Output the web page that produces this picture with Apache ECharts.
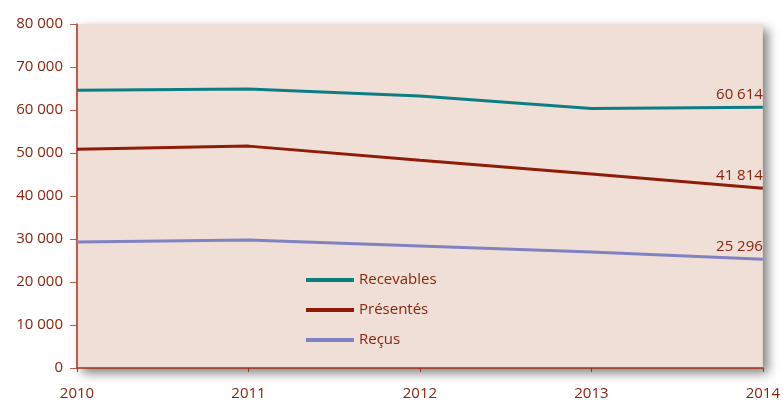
<!DOCTYPE html>
<html><head><meta charset="utf-8">
<script src="https://cdn.jsdelivr.net/npm/echarts@6/dist/echarts.min.js"></script>
<style>html,body{margin:0;padding:0;background:#fff}#c{width:783px;height:401px}</style>
</head><body><div id="c"></div>
<script>
const years = ['2010','2011','2012','2013','2014'];
const recevables = [64600, 64900, 63250, 60350, 60614];
const presentes = [50900, 51600, 48300, 45100, 41814];
const recus = [29300, 29750, 28400, 26950, 25296];
const seriesNames = ['Recevables','Présentés','Reçus'];
const colors = ['#0d7d84','#8e1c08','#8181c4'];
const txt = '#88240f';
const FONT = 'Open Sans';

function fmt(v){ return String(v).replace(/\B(?=(\d{3})+(?!\d))/g,' '); }

const chart = echarts.init(document.getElementById('c'));
const mk = (name, data, color) => ({
  name, type:'line', data, showSymbol:true, symbol:'circle', symbolSize:0, smooth:false,
  lineStyle:{color, width:3}, itemStyle:{color},
  label:{show:true, position:'top', align:'right', offset:[-3,-7], color:txt, fontFamily:FONT, fontSize:15,
    formatter:p => p.dataIndex === data.length-1 ? fmt(p.value) : ''},
  labelLayout:{hideOverlap:false}
});
chart.setOption({
  animation:false,
  backgroundColor:'#ffffff',
  grid:{left:77, right:13, top:24, bottom:33, show:true, backgroundColor:'#f0dfd6', borderWidth:0,
    shadowColor:'rgba(0,0,0,0.5)', shadowBlur:10, shadowOffsetX:5, shadowOffsetY:5},
  legend:{orient:'vertical', left:306, top:272, padding:0, itemWidth:48, itemHeight:4, itemGap:14, icon:'rect',
    textStyle:{color:txt, fontFamily:FONT, fontSize:15, lineHeight:16},
    data:seriesNames},
  xAxis:{type:'category', data:years, boundaryGap:false,
    axisLine:{lineStyle:{color:'#a3301a', width:1.5}},
    axisTick:{show:true, length:4, alignWithLabel:true, lineStyle:{color:'#a3301a'}},
    axisLabel:{color:txt, fontFamily:FONT, fontSize:15, margin:18},
    splitLine:{show:false}},
  yAxis:{type:'value', min:0, max:80000, interval:10000,
    axisLine:{show:true, lineStyle:{color:'#a3301a', width:1.5}},
    axisTick:{show:true, length:7, lineStyle:{color:'#b0604a'}},
    axisLabel:{color:txt, fontFamily:FONT, fontSize:15, margin:14, formatter:v=>fmt(v)},
    splitLine:{show:false}},
  series:[mk(seriesNames[0], recevables, colors[0]), mk(seriesNames[1], presentes, colors[1]), mk(seriesNames[2], recus, colors[2])]
});
</script></body></html>
